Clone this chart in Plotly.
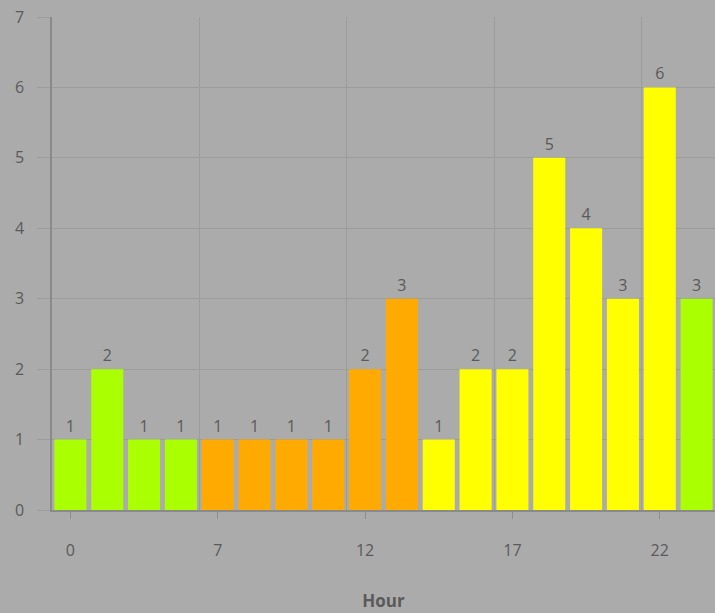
import plotly.graph_objects as go

hours = ["0", "2", "3", "5", "7", "8", "9", "10", "12", "13", "14", "15", "17", "18", "19", "20", "22", "23"]
counts = [1, 2, 1, 1, 1, 1, 1, 1, 2, 3, 1, 2, 2, 5, 4, 3, 6, 3]
period = ["night"] * 4 + ["morning"] * 6 + ["evening"] * 7 + ["night"]
shown_ticks = ["0", "7", "12", "17", "22"]
palette = {"night": "#AAFF00", "morning": "#FFAA00", "evening": "#FFFF00"}

idx = list(range(len(hours)))
colors = [palette[p] for p in period]
tick_pos = [hours.index(h) for h in shown_ticks]
boundaries = [i - 0.5 for i in idx if i % 4 == 0 and i > 0]

fig = go.Figure(go.Bar(
    x=idx, y=counts, marker=dict(color=colors, line=dict(width=0)),
    text=counts, textposition="outside", cliponaxis=False,
    textfont=dict(size=16, color="#5a5a5a"),
    hovertext=hours,
))

fig.update_layout(
    width=715, height=613,
    margin=dict(l=52, r=0, t=17, b=103),
    paper_bgcolor="#ABABAB", plot_bgcolor="#ABABAB",
    font=dict(family="Open Sans, sans-serif", size=16, color="#5a5a5a"),
    bargap=0.13, showlegend=False,
)
fig.update_xaxes(
    range=[-0.5, len(hours) - 0.5],
    tickmode="array", tickvals=tick_pos, ticktext=shown_ticks,
    showgrid=False, zeroline=False,
    ticks="outside", ticklen=7, tickcolor="#8e8e8e",
    showline=True, linecolor="#8a8a8a", linewidth=1.5,
    ticklabelstandoff=18,
    minor=dict(tickmode="array", tickvals=boundaries, showgrid=True,
               gridcolor="#9c9c9c", gridwidth=1, ticks=""),
    title=dict(text="<b>Hour</b>", font=dict(size=17, color="#5a5a5a"), standoff=35),
)
fig.update_yaxes(
    range=[0, 7], dtick=1, showgrid=True, gridcolor="#9c9c9c", gridwidth=1,
    zeroline=False, showline=True, linecolor="#8a8a8a", linewidth=1.5,
    ticks="outside", ticklen=13, tickcolor="#9c9c9c",
    ticklabelstandoff=10,
)

fig.write_html("out.html", config={"displayModeBar": False},
               post_script="document.body.style.margin='0';")
